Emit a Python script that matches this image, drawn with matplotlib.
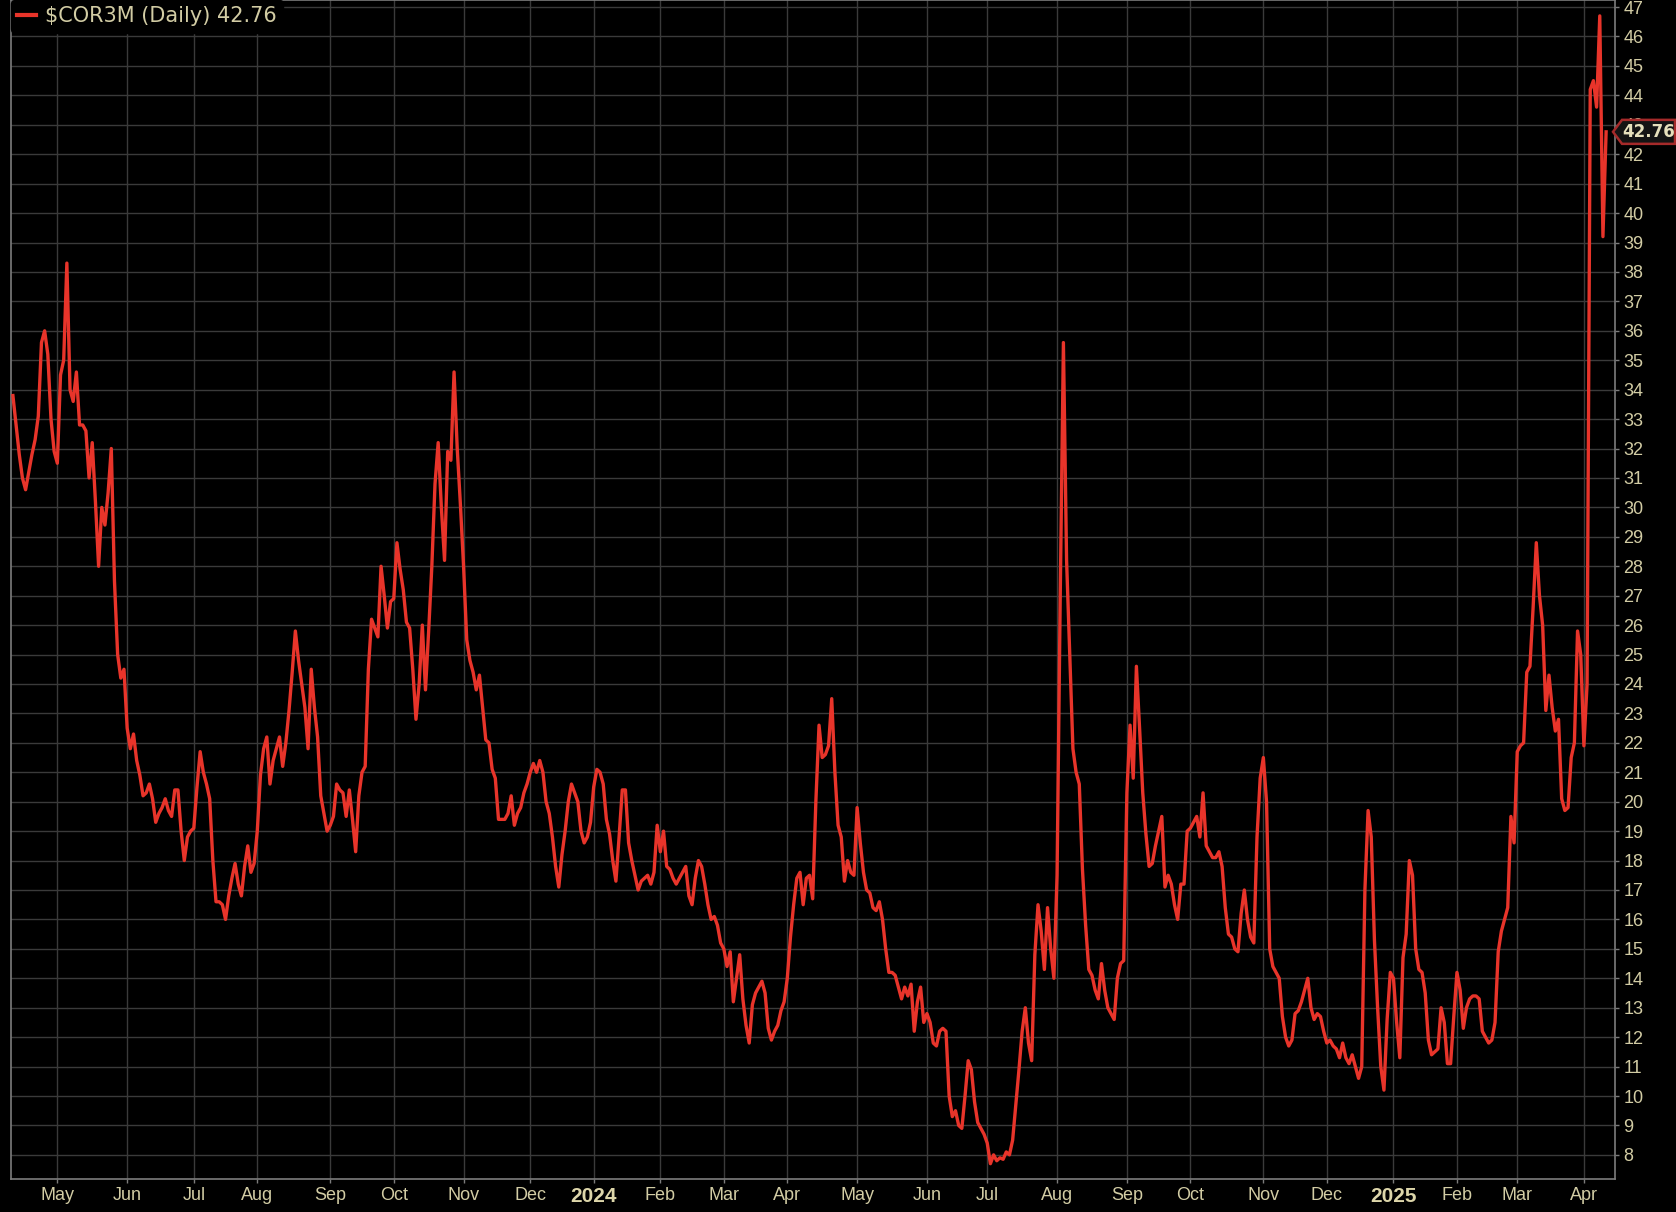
import matplotlib
matplotlib.use("Agg")
import matplotlib.pyplot as plt
import matplotlib.transforms as mtransforms
from matplotlib.patches import Polygon
import numpy as np
import pandas as pd

# datos: $COR3M diario (dias de mercado desde 2023-04-11)
start_date = "2023-04-11"
nyse_holidays = [
    "2023-05-29", "2023-06-19", "2023-07-04", "2023-09-04", "2023-11-23", "2023-12-25",
    "2024-01-01", "2024-01-15", "2024-02-19", "2024-03-29", "2024-05-27", "2024-06-19",
    "2024-07-04", "2024-09-02", "2024-11-28", "2024-12-25",
    "2025-01-01", "2025-01-09", "2025-01-20", "2025-02-17",
]
cor3m = [
    # abr 2023
    33.8, 32.8, 31.8, 31.0, 30.6, 31.2, 31.8, 32.3, 33.1, 35.6, 36.0, 35.2, 33.0, 31.9,
    # may 2023
    31.5, 34.5, 35.0, 38.3, 34.0, 33.6, 34.6, 32.8, 32.8, 32.6, 31.0, 32.2, 30.2, 28.0,
    30.0, 29.4, 30.5, 32.0, 27.5, 25.0, 24.2, 24.5,
    # jun 2023
    22.5, 21.8, 22.3, 21.4, 20.9, 20.2, 20.3, 20.6, 20.1, 19.3, 19.6, 19.8, 20.1, 19.7,
    19.5, 20.4, 20.4, 19.0, 18.0, 18.8, 19.0,
    # jul 2023
    19.1, 20.5, 21.7, 21.0, 20.6, 20.1, 18.0, 16.6, 16.6, 16.5, 16.0, 16.8, 17.4, 17.9,
    17.2, 16.8, 17.8, 18.5, 17.6, 17.9,
    # ago 2023
    19.0, 20.9, 21.8, 22.2, 20.6, 21.4, 21.8, 22.2, 21.2, 22.0, 23.1, 24.4, 25.8, 24.8,
    24.0, 23.2, 21.8, 24.5, 23.2, 22.2, 20.2, 19.6, 19.0,
    # sep 2023
    19.2, 19.5, 20.6, 20.4, 20.3, 19.5, 20.4, 19.4, 18.3, 20.2, 21.0, 21.2, 24.5, 26.2,
    25.9, 25.6, 28.0, 27.0, 25.9, 26.8,
    # oct 2023
    26.9, 28.8, 27.9, 27.2, 26.1, 25.9, 24.5, 22.8, 24.0, 26.0, 23.8, 25.8, 28.0, 30.8,
    32.2, 30.0, 28.2, 31.9, 31.6, 34.6, 32.0, 30.1,
    # nov 2023
    28.0, 25.5, 24.8, 24.4, 23.8, 24.3, 23.2, 22.1, 22.0, 21.1, 20.8, 19.4, 19.4, 19.4,
    19.6, 20.2, 19.2, 19.6, 19.8, 20.3, 20.6,
    # dic 2023
    21.0, 21.3, 21.0, 21.4, 21.0, 20.0, 19.6, 18.8, 17.8, 17.1, 18.2, 19.0, 20.0, 20.6,
    20.3, 20.0, 19.0, 18.6, 18.8, 19.3,
    # ene 2024
    20.5, 21.1, 21.0, 20.6, 19.4, 18.9, 18.0, 17.3, 18.8, 20.4, 20.4, 18.6, 18.0, 17.5,
    17.0, 17.3, 17.4, 17.5, 17.2, 17.6, 19.2,
    # feb 2024
    18.3, 19.0, 17.8, 17.7, 17.4, 17.2, 17.4, 17.6, 17.8, 16.8, 16.5, 17.4, 18.0, 17.8,
    17.2, 16.5, 16.0, 16.1, 15.8, 15.2,
    # mar 2024
    15.0, 14.4, 14.9, 13.2, 14.0, 14.8, 13.3, 12.4, 11.8, 13.1, 13.5, 13.7, 13.9, 13.5,
    12.3, 11.9, 12.2, 12.4, 12.9, 13.2,
    # abr 2024
    14.0, 15.4, 16.5, 17.4, 17.6, 16.5, 17.4, 17.5, 16.7, 20.0, 22.6, 21.5, 21.6, 21.9,
    23.5, 21.0, 19.2, 18.8, 17.3, 18.0, 17.6, 17.5,
    # may 2024
    19.8, 18.6, 17.6, 17.0, 16.9, 16.4, 16.3, 16.6, 16.0, 15.0, 14.2, 14.2, 14.1, 13.7,
    13.3, 13.7, 13.4, 13.8, 12.2, 13.2, 13.7, 12.5,
    # jun 2024
    12.8, 12.5, 11.8, 11.7, 12.2, 12.3, 12.2, 10.0, 9.3, 9.5, 9.0, 8.9, 10.0, 11.2,
    10.9, 9.8, 9.1, 8.9, 8.7,
    # jul 2024
    8.4, 7.7, 8.0, 7.8, 7.9, 7.85, 8.1, 8.0, 8.5, 9.7, 10.9, 12.2, 13.0, 11.8,
    11.2, 14.8, 16.5, 15.6, 14.3, 16.4, 15.0, 14.0,
    # ago 2024
    17.5, 27.0, 35.6, 28.2, 25.0, 21.8, 21.0, 20.6, 17.7, 15.8, 14.3, 14.1, 13.6, 13.3,
    14.5, 13.6, 13.0, 12.8, 12.6, 14.0, 14.5, 14.6,
    # sep 2024
    20.3, 22.6, 20.8, 24.6, 22.5, 20.3, 18.9, 17.8, 17.9, 18.5, 19.0, 19.5, 17.1, 17.5,
    17.2, 16.5, 16.0, 17.2, 17.2, 19.0,
    # oct 2024
    19.1, 19.3, 19.5, 18.8, 20.3, 18.5, 18.3, 18.1, 18.1, 18.3, 17.8, 16.4, 15.5, 15.4,
    15.0, 14.9, 16.2, 17.0, 16.0, 15.4, 15.2, 18.8, 20.8,
    # nov 2024
    21.5, 20.0, 15.0, 14.4, 14.2, 14.0, 12.7, 12.0, 11.7, 11.9, 12.8, 12.9, 13.2, 13.6,
    14.0, 13.0, 12.6, 12.8, 12.7, 12.2,
    # dic 2024
    11.8, 11.9, 11.7, 11.6, 11.3, 11.8, 11.3, 11.1, 11.4, 11.0, 10.6, 11.0, 17.0, 19.7,
    18.8, 15.3, 13.0, 11.0, 10.2, 12.6, 14.2,
    # ene 2025
    14.0, 12.5, 11.3, 14.7, 15.5, 18.0, 17.5, 15.0, 14.3, 14.2, 13.5, 11.9, 11.4, 11.5,
    11.6, 13.0, 12.5, 11.1, 11.1, 12.7,
    # feb 2025
    14.2, 13.6, 12.3, 13.0, 13.3, 13.4, 13.4, 13.3, 12.2, 12.0, 11.8, 11.9, 12.5, 14.9,
    15.6, 16.0, 16.4, 19.5, 18.6,
    # mar 2025
    21.7, 21.9, 22.0, 24.4, 24.6, 26.6, 28.8, 27.0, 26.0, 23.1, 24.3, 23.2, 22.4, 22.8,
    20.1, 19.7, 19.8, 21.5, 22.0, 25.8, 25.0,
    # abr 2025
    21.9, 24.0, 44.2, 44.5, 43.6, 46.7, 39.2, 42.76,
]
y_ticks = list(range(8, 48))
month_names = ["Jan", "Feb", "Mar", "Apr", "May", "Jun",
               "Jul", "Aug", "Sep", "Oct", "Nov", "Dec"]

# colores
bg = "#000000"
line_red = "#e8342a"
grid_col = "#3a3a3a"
axis_col = "#7c7c7c"
txt_col = "#d2cca4"

dates = pd.bdate_range(start=start_date, periods=len(cor3m), freq="C",
                       holidays=nyse_holidays)
x = np.arange(len(cor3m))

# ticks al primer dia de cada mes
tick_pos = []
tick_lab = []
for i in range(1, len(dates)):
    if dates[i].month != dates[i - 1].month:
        tick_pos.append(i)
        if dates[i].month == 1:
            tick_lab.append(str(dates[i].year))
        else:
            tick_lab.append(month_names[dates[i].month - 1])

W, H = 1676, 1212
fig = plt.figure(figsize=(W / 100, H / 100), dpi=100, facecolor=bg)
ax = fig.add_axes([11 / W, 33 / H, 1604 / W, 1179 / H], facecolor=bg)

ax.plot(x, cor3m, color=line_red, lw=2.4, label="$COR3M (Daily) %.2f" % cor3m[-1],
        zorder=3)

ax.set_xlim(-0.6, len(cor3m) + 1.8)
ax.set_ylim(7.18, 47.24)

ax.yaxis.tick_right()
ax.set_yticks(y_ticks)
ax.set_yticklabels([str(v) for v in y_ticks])
ax.set_xticks(tick_pos)
ax.set_xticklabels(tick_lab)

ax.grid(True, color=grid_col, lw=1.0, zorder=0)
ax.set_axisbelow(True)
for sp in ax.spines.values():
    sp.set_color(axis_col)
    sp.set_linewidth(1.2)

ax.tick_params(axis="both", direction="out", length=3, width=1, color=axis_col,
               labelcolor=txt_col, pad=3)
for lab in ax.get_yticklabels():
    lab.set_family(["Liberation Sans", "DejaVu Sans"])
    lab.set_fontsize(13)
for lab in ax.get_xticklabels():
    lab.set_family(["Liberation Sans", "DejaVu Sans"])
    if lab.get_text().isdigit():
        lab.set_fontsize(15)
        lab.set_fontweight("bold")
        lab.set_color("#ddd6aa")
    else:
        lab.set_fontsize(13)

leg = ax.legend(loc="upper left", bbox_to_anchor=(0, 1), borderaxespad=0.0,
                frameon=True, facecolor=bg, edgecolor=bg, framealpha=1,
                handlelength=0.9, handletextpad=0.45, borderpad=0.3,
                prop={"family": ["DejaVu Sans"], "size": 15})
for t in leg.get_texts():
    t.set_color(txt_col)
for h in leg.legend_handles:
    h.set_linewidth(3.0)

# etiqueta del ultimo valor en el eje derecho
ident = mtransforms.IdentityTransform()
x0 = ax.transAxes.transform((1, 0))[0]
y0 = ax.transData.transform((0, cor3m[-1]))[1]
tag = Polygon([(x0 - 2, y0), (x0 + 7, y0 + 12), (W - 1, y0 + 12),
               (W - 1, y0 - 12), (x0 + 7, y0 - 12)], closed=True,
              facecolor="#141414", edgecolor="#a52a2a", lw=1.8,
              transform=ident, zorder=5)
fig.add_artist(tag)
fig.text((x0 + 7 + W - 1) / 2, y0, "%.2f" % cor3m[-1], transform=ident,
         ha="center", va="center", color="#e6e0bc", fontsize=12,
         fontweight="bold", zorder=6)

fig.savefig("out.png", dpi=100, facecolor=bg)
